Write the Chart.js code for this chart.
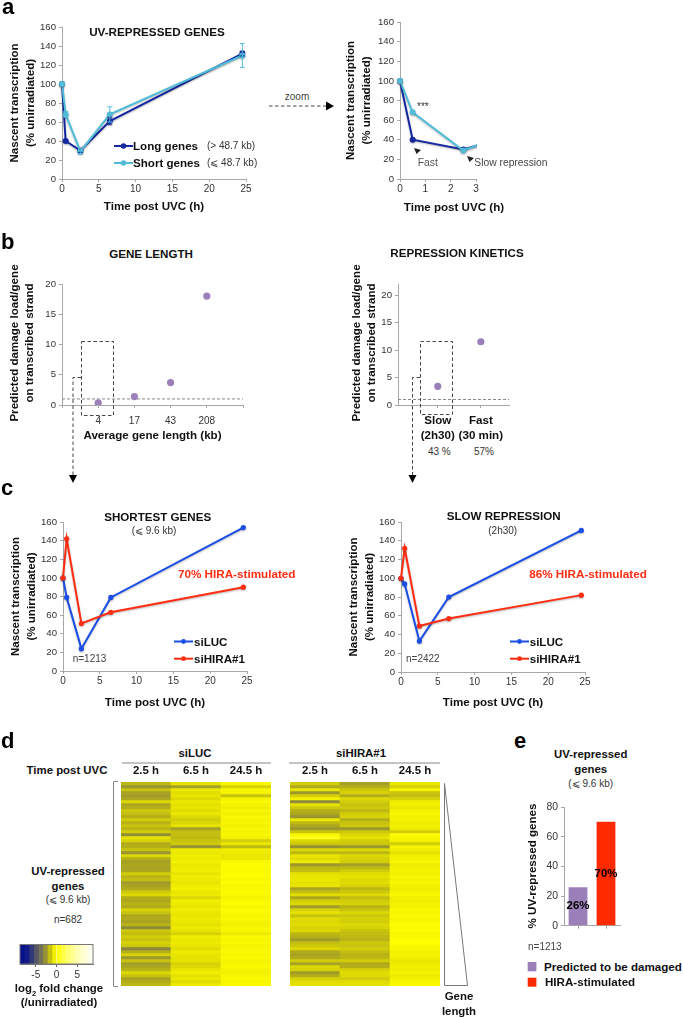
<!DOCTYPE html>
<html><head><meta charset="utf-8">
<script src="https://cdn.jsdelivr.net/npm/chart.js@4"></script>
<style>
html,body{margin:0;padding:0;background:#fff;width:683px;height:1018px;overflow:hidden;font-family:"Liberation Sans",Arial,sans-serif}
body{filter:blur(.35px)}
canvas{position:absolute}
.t{position:absolute;white-space:nowrap;line-height:1;color:#111}
.b{font-weight:bold}
sub{font-size:.65em;line-height:0}
svg{position:absolute;left:0;top:0;pointer-events:none}
</style></head><body>
<script>
// ---------- data ----------
const timePoints = [0, 0.5, 2.5, 6.5, 24.5];
const longGenes = [100, 40, 30, 61, 132];
const shortGenes = [100, 68, 29, 68, 130];
const longErr = [0, 1, 2, 4, 2.5];
const shortErr = [0, 3, 3, 8, 12.5];
const lengthLabels = ['', '4', '17', '43', '208', ''];
const lengthDamage = [null, 0.35, 1.4, 3.7, 18, null];
const refLevel = [1, 1, 1, 1, 1, 1];
const kineticsPos = [1, 2];
const kineticsDamage = [3.4, 11.5];
const kineticsLabels = [['Slow', '(2h30)'], ['Fast', '(30 min)']];
const shortestLUC = [100, 79, 24, 79, 154];
const shortestHIRA = [100, 142, 51, 63, 90];
const slowLUC = [100, 94, 33, 80, 151];
const slowHIRA = [100, 132, 49, 57, 82];
const barCats = ['Predicted to be damaged', 'HIRA-stimulated'];
const barVals = [26, 70];
const heatCols = ['2.5 h', '6.5 h', '24.5 h'];
// heat-map rows (log2 fold change, read by eye in bands, top to bottom)
const luc25 = [-1.8,-2.7,-1.6,-2.3,-2.5,-2.2,-1.2,-2.2,-2,-1.5,-1.7,-2,-1.4,-1.9,-1.6,-1.9,-1.4,-2.9,-1,-1.3,-2.1,-2,-1.6,-2.7,-1.2,-2,-2.4,-2.2,-2.3,-2.2,-1.4,-1.9,-1.7,-2.5,-2.3,-2.1,-1.5,-1.2,-2,-2.2,-1.9,-2.1,-1.3,-1.6,-2.2,-2.1,-2.3,-1.9,-3,-1.5,-1.7,-1.4,-1.6,-1.3,-1.5,-3.1,-2,-1.3,-2.6,-1.6,-2.4,-2.2,-1.9,-1.2,-1.6,-2.3,-2,-1.8];
const luc65 = [-1,-2.4,-.8,-1.1,-.9,-1.2,-.8,-1,-.9,-1.1,-.8,-1.2,-1.4,-1.2,-1,-2.4,-1.7,-1.7,-1.8,-1.6,-1.5,-2.8,-.7,-.8,-.6,-.7,-.5,-.8,-.7,-.6,-.9,-.6,-.7,-.9,-.6,-.5,-.8,-.7,-1.2,-.6,-.7,-.9,-.6,-.8,-.9,-.7,-.8,-1,-.7,-1,-1.3,-.6,-.8,-.7,-.9,-1.1,-.7,-.9,-1,-1,-1.3,-1.2,-.9,-.6,-1,-.8,-1.1,-.7];
const luc245 = [-.3,-1.3,-.3,-.4,-1.6,-.4,-.2,-.4,-.6,-.3,-.5,-.2,-.4,-.3,-.5,-.3,-.4,-.3,-.5,-1.4,-.8,-1.8,-.6,-.7,-.9,-.8,-.2,-.1,-.1,-.2,-.1,-.1,-.2,-.1,-.3,-.2,-.1,-.2,-.4,-.2,-.1,-.3,-.1,-.2,-.3,-.2,-.4,-.5,-.3,-.3,-.7,-.2,-.3,-.2,-.4,-.3,-.2,-.3,-.2,-.4,-.3,-.2,-.4,-.5,-.3,-.2,-.3,-.2];
const hira25 = [-1.4,-2.1,-.9,-2.6,-1.3,-.5,-3,-1,-1.5,-2,-2.2,-2.7,-.8,-1.8,-2.2,-2.6,-1.6,-.3,.6,-1.2,-1.5,-2.8,-1.2,-1.8,-.9,-1.1,-.7,-2.6,-1.8,-1.7,-1,-.9,-.8,-1,-.9,-2.3,-1.7,-1.1,-2.2,-1.4,-1.2,-2.5,-1.3,-1,-1.6,-1.1,-1.2,-1.1,-1.3,-1.2,-1.8,-2,-2.5,-1.7,-1.5,-1.2,-2.1,-2.3,-2.1,-1.4,-2.3,-1.2,-1.3,-2.5,-2,-1.3,-1.1,-1];
const hira65 = [-2.4,-2,-1.5,-1.3,-2,-1.2,-1.4,-1.6,-1.5,-1.8,-1.4,-1.3,-2,-1.6,-1.5,-2.6,-1.5,-1.2,-1,-1.4,-1.5,-2.6,-1.2,-1.8,-1.2,-1.3,-1.4,-2.4,-1.8,-1.4,-1.1,-1,-1.2,-1.1,-1.3,-1.8,-1.5,-1.2,-1.7,-1.4,-1.3,-1.9,-1.6,-1.2,-1.5,-1.3,-1.4,-1.2,-1.3,-1.6,-1.7,-1.8,-1.9,-1.5,-1.6,-1.4,-1.7,-1.9,-1.8,-1.4,-2.1,-2,-1.3,-1.1,-1.2,-1.4,-1.1,-1];
const hira245 = [-.8,-1.3,-.3,-1.6,-1.7,-1.3,-.6,-.5,-.8,-.4,-.3,-.5,-.4,-.6,-.5,-.7,-1.4,-.1,-.3,-.5,-1.4,-.4,-.6,-1,-.5,-.4,-.3,-.6,-.5,-.4,-.5,-.3,-.4,-.3,-.5,-.6,-.4,-.3,-.5,-.6,-.4,-.5,-.2,-.3,-.2,-.3,-.2,-.1,-.2,-.1,-.3,-.2,-.1,0,-.2,-.3,-.5,-.4,-.6,-.8,-.7,-.5,-.6,-.4,-.7,-.5,-.3,-.2];
const colorbarEdges = [-8.8,-7.7,-6.6,-5.5,-4.4,-3.3,-2.2,-1.1,0,1.1,2.2,3.3,4.4,5.5,6.6,7.7,8.8];
const colorbarTicks = [-5,0,5];

// ---------- helpers ----------
const FONT='"Liberation Sans",Arial,sans-serif';
const GREY='#a8a8a8', TICKC='#333';
const heatStops=[[-8.8,[0,10,140]],[-7,[20,28,136]],[-6,[51,58,120]],[-5,[85,85,104]],[-4,[110,110,92]],[-3,[142,138,60]],[-2,[180,174,24]],[-1,[230,226,0]],[0,[255,255,0]],[2,[255,255,90]],[5,[255,255,180]],[8.8,[255,255,255]]];
function heatColor(v){
  for(let i=0;i<heatStops.length-1;i++){
    const [a,ca]=heatStops[i],[b,cb]=heatStops[i+1];
    if(v<=b){const f=Math.max(0,(v-a)/(b-a));return 'rgb('+ca.map((c,k)=>Math.round(c+(cb[k]-c)*f)).join(',')+')';}
  }
  return '#fff';
}
function txt(s,x,y,o={}){
  const d=document.createElement('div');d.className='t'+(o.b?' b':'');d.innerHTML=s;
  d.style.left=x+'px';d.style.top=y+'px';d.style.fontSize=(o.s||10)+'px';
  if(o.c)d.style.color=o.c;
  d.style.transform=o.v?'translate(-50%,-50%) rotate(-90deg)':(o.left?'translateY(-50%)':'translate(-50%,-50%)');
  document.body.appendChild(d);
}
const shadow={id:'softShadow',
  beforeDatasetsDraw(ch){ch.ctx.save();ch.ctx.shadowColor='rgba(0,0,0,.28)';ch.ctx.shadowBlur=2;ch.ctx.shadowOffsetY=1;},
  afterDatasetsDraw(ch){ch.ctx.restore();}};
function mk(box,plot,cfg,plugins){
  const [L,T,R,B]=box,[l,t,r,b]=plot;
  const c=document.createElement('canvas');c.width=R-L;c.height=B-T;c.style.left=L+'px';c.style.top=T+'px';
  document.body.appendChild(c);
  const s=cfg.options.scales;
  const top=s.x.position==='top';
  s.x.afterFit=a=>{a.height=top?(t-T):(B-b);};
  if(s.y.display!==false)s.y.afterFit=a=>{a.width=l-L;};
  cfg.options=Object.assign({responsive:false,animation:false,events:[],maintainAspectRatio:false,
    layout:{padding:{left:s.y.display===false?l-L:0,top:top?0:t-T,right:R-r,bottom:top?B-b:0}},
    plugins:{legend:{display:false},tooltip:{enabled:false},title:{display:false}}},cfg.options);
  cfg.plugins=plugins||[];
  return new Chart(c,cfg);
}
const AXT=t=>({display:!!t,text:t||'',color:'#111',padding:0,font:{family:FONT,size:11.6,weight:'bold',lineHeight:1.35}});
function yAxis(max,step,title,fs,pad){return {type:'linear',min:0,max,
  ticks:{stepSize:step,includeBounds:false,color:TICKC,padding:pad||3,font:{family:FONT,size:fs||9.6}},
  grid:{drawOnChartArea:false,tickLength:3,tickColor:GREY},border:{color:GREY},title:AXT(title)};}
function xTime(max,step,title){return {type:'linear',min:0,max,
  ticks:{stepSize:step,color:TICKC,padding:1,maxRotation:0,font:{family:FONT,size:10}},
  grid:{drawOnChartArea:false,tickLength:3,tickColor:GREY},border:{color:GREY},title:AXT(title)};}
const pts=(xs,ys)=>xs.map((x,i)=>({x,y:ys[i]}));
function lineDs(label,ys,color,order,radius){return {label,data:pts(timePoints,ys),showLine:true,borderColor:color,backgroundColor:color,borderWidth:2,pointRadius:radius||3,pointBorderWidth:0,tension:0,order,clip:{left:6,top:6,right:1,bottom:6}};}
const errBars={id:'errBars',afterDatasetsDraw(ch){
  const ctx=ch.ctx,xS=ch.scales.x,yS=ch.scales.y;
  [[longGenes,longErr,'#1528a0'],[shortGenes,shortErr,'#52bcd8']].forEach(([v,e,col])=>{
    ctx.save();ctx.strokeStyle=col;ctx.lineWidth=1;
    v.forEach((val,i)=>{if(!e[i])return;const x=xS.getPixelForValue(timePoints[i]),a=yS.getPixelForValue(val-e[i]),b=yS.getPixelForValue(val+e[i]);
      ctx.beginPath();ctx.moveTo(x,a);ctx.lineTo(x,b);ctx.moveTo(x-2.5,a);ctx.lineTo(x+2.5,a);ctx.moveTo(x-2.5,b);ctx.lineTo(x+2.5,b);ctx.stroke();});
    ctx.restore();});
}};
const NASCENT=['Nascent transcription','(% unirradiated)'];
const LONGC='#1528a0',SHORTC='#52bcd8',LUCC='#1a4ee6',HIRAC='#ff2d12',PURPLE='#9a7fb8';
const TIMEAX='Time post UVC (h)';

// ---------- panel a ----------
mk([7,10,262,215],[62,27,246,179],{type:'scatter',data:{datasets:[lineDs('Long genes',longGenes,LONGC,2),lineDs('Short genes',shortGenes,SHORTC,1)]},
  options:{scales:{x:xTime(25,5,TIMEAX),y:yAxis(160,20,NASCENT)}}},[shadow,errBars]);
mk([343,10,490,215],[400,22,476,179],{type:'scatter',data:{datasets:[lineDs('Long genes',longGenes,LONGC,2),lineDs('Short genes',shortGenes,SHORTC,1)]},
  options:{scales:{x:xTime(3,1),y:yAxis(160,20,NASCENT)}}},[shadow]);

// ---------- panel b ----------
function dotDs(label,data){return {label,data,showLine:false,pointRadius:3.6,pointBorderWidth:0,backgroundColor:PURPLE,borderColor:PURPLE,order:1};}
mk([6,270,255,444],[62,284,243,405],{type:'line',data:{labels:lengthLabels,datasets:[dotDs('Damage',lengthDamage),
   {label:'Level 1',data:refLevel,borderColor:'#888',borderWidth:1,borderDash:[3,2],pointRadius:0,order:2}]},
  options:{scales:{x:{type:'category',offset:false,ticks:{color:TICKC,padding:7,autoSkip:false,maxRotation:0,font:{family:FONT,size:10}},
     grid:{drawOnChartArea:false,tickLength:3,tickColor:GREY},border:{color:GREY},title:AXT('Average gene length (kb)')},
    y:yAxis(20,5)}}});
const xMinK=0.076,xMaxK=2.654;
mk([348,270,520,445],[398,284,509,405],{type:'scatter',data:{datasets:[dotDs('Damage',pts(kineticsPos,kineticsDamage)),
   {label:'Level 1',data:[{x:xMinK,y:1},{x:xMaxK,y:1}],showLine:true,borderColor:'#888',borderWidth:1,borderDash:[3,2],pointRadius:0,order:2}]},
  options:{scales:{x:{type:'linear',min:xMinK,max:xMaxK,afterBuildTicks:a=>{a.ticks=kineticsPos.map(v=>({value:v}));},
      ticks:{color:'#111',padding:5,maxRotation:0,callback:v=>kineticsLabels[kineticsPos.indexOf(v)],font:{family:FONT,size:11.6,weight:'bold',lineHeight:1.3}},
      grid:{drawOnChartArea:false,tickLength:3,tickColor:GREY},border:{color:GREY}},
    y:yAxis(22,5)}}});

// ---------- panel c ----------
mk([8,505,262,711],[63,522,247,671],{type:'scatter',data:{datasets:[lineDs('siLUC',shortestLUC,LUCC,2,2.6),lineDs('siHIRA#1',shortestHIRA,HIRAC,1,2.6)]},
  options:{scales:{x:xTime(25,5,TIMEAX),y:yAxis(160,20,NASCENT)}}},[shadow]);
mk([346,505,600,711],[401,522,585,672],{type:'scatter',data:{datasets:[lineDs('siLUC',slowLUC,LUCC,2,2.6),lineDs('siHIRA#1',slowHIRA,HIRAC,1,2.6)]},
  options:{scales:{x:xTime(25,5,TIMEAX),y:yAxis(160,20,NASCENT)}}},[shadow]);

// ---------- panel d ----------
function heat(box,plot,cols){
  const datasets=cols[0].map((_,i)=>({label:'row '+i,data:cols.map(()=>1),backgroundColor:cols.map(c=>heatColor(c[i])),borderWidth:0,barPercentage:1,categoryPercentage:1}));
  mk(box,plot,{type:'bar',data:{labels:heatCols,datasets},options:{scales:{
    x:{position:'top',stacked:true,ticks:{color:'#111',padding:4,maxRotation:0,font:{family:FONT,size:11.4,weight:'bold'}},grid:{display:false,drawTicks:false},border:{display:false}},
    y:{display:false,stacked:true,reverse:true,min:0,max:cols[0].length}}}});
}
heat([121,764,271,986],[121,782,271,986],[luc25,luc65,luc245]);
heat([290,764,440,986],[290,782,440,986],[hira25,hira65,hira245]);
mk([12,944,101,985],[20,944,93,964],{type:'bar',data:{labels:['log2 fold change'],
   datasets:colorbarEdges.slice(0,-1).map((a,i)=>({label:'step '+i,data:[[a,colorbarEdges[i+1]]],backgroundColor:heatColor((a+colorbarEdges[i+1])/2),borderWidth:0,grouped:false,barPercentage:1,categoryPercentage:1}))},
  options:{indexAxis:'y',scales:{x:{type:'linear',min:colorbarEdges[0],max:colorbarEdges[colorbarEdges.length-1],afterBuildTicks:a=>{a.ticks=colorbarTicks.map(v=>({value:v}));},
     ticks:{color:TICKC,padding:2,maxRotation:0,callback:v=>String(v),font:{family:FONT,size:10}},
     grid:{drawOnChartArea:false,tickLength:3,tickColor:'#666'},border:{color:'#777'}},
    y:{display:false,type:'category'}}}});

// ---------- panel e ----------
const barLabels={id:'barLabels',afterDatasetsDraw(ch){
  const ctx=ch.ctx;ctx.save();ctx.font='bold 11.4px '+FONT;ctx.fillStyle='#000';ctx.textAlign='center';ctx.textBaseline='middle';
  ch.getDatasetMeta(0).data.forEach((bar,i)=>{ctx.fillText(barVals[i]+'%',bar.x,(bar.y+bar.base)/2);});ctx.restore();}};
mk([525,795,630,935],[564,807,620,927],{type:'bar',data:{labels:barCats,datasets:[{label:'% UV-repressed genes',data:barVals,backgroundColor:[PURPLE,'#ff2a00'],borderWidth:0,barPercentage:.67,categoryPercentage:1}]},
  options:{scales:{x:{ticks:{display:false},grid:{offset:false,drawOnChartArea:false,tickLength:3,tickColor:GREY},border:{color:GREY}},
    y:yAxis(80,20,null,10.4,3)}}},[barLabels]);

// ---------- text ----------
txt('a',2,7,{s:22,b:1,c:'#000',left:1});txt('b',1,242,{s:22,b:1,c:'#000',left:1});txt('c',1,488,{s:22,b:1,c:'#000',left:1});txt('d',1,741,{s:22,b:1,c:'#000',left:1});txt('e',514,741,{s:22,b:1,c:'#000',left:1});
txt('UV-REPRESSED GENES',157,32,{s:11.7,b:1});
txt('zoom',297,97,{s:10,c:'#444'});
txt('Long genes',133,146,{s:11.6,b:1,left:1});txt('(&gt; 48.7 kb)',207,146,{s:10,c:'#333',left:1});
txt('Short genes',133,163,{s:11.6,b:1,left:1});txt('(⩽ 48.7 kb)',207,163,{s:10,c:'#333',left:1});
txt('***',417,107,{s:10,c:'#333',left:1});
txt('Time post UVC (h)',454,207,{s:11.6,b:1});
txt('Fast',417.7,163,{s:10.4,c:'#555',left:1});txt('Slow repression',474.3,163,{s:10.3,c:'#444',left:1});
txt('GENE LENGTH',151,254,{s:11.6,b:1});txt('REPRESSION KINETICS',457,253,{s:11.6,b:1});
txt('Predicted damage load/gene',14,343,{s:11.6,b:1,v:1});txt('on transcribed strand',29.3,343,{s:11.6,b:1,v:1});
txt('Predicted damage load/gene',355.7,343,{s:11.6,b:1,v:1});txt('on transcribed strand',370.7,343,{s:11.6,b:1,v:1});
txt('% UV-repressed genes',532.3,866,{s:11.6,b:1,v:1});
txt('43 %',439.3,451.7,{s:10,c:'#333'});txt('57%',484,451.7,{s:10,c:'#333'});
txt('SHORTEST GENES',157.7,516.7,{s:11.6,b:1});txt('(⩽ 9.6 kb)',154,531,{s:10,c:'#333'});
txt('SLOW REPRESSION',503.7,515.7,{s:11.6,b:1});txt('(2h30)',502.7,531,{s:10,c:'#333'});
txt('70% HIRA-stimulated',236.7,574,{s:11.7,b:1,c:'#ff2d12'});txt('86% HIRA-stimulated',588,574,{s:11.7,b:1,c:'#ff2d12'});
txt('siLUC',194,641.5,{s:11.6,b:1,left:1});txt('siHIRA#1',194,659,{s:11.6,b:1,left:1});
txt('siLUC',529.7,641.5,{s:11.6,b:1,left:1});txt('siHIRA#1',529.7,659,{s:11.6,b:1,left:1});
txt('n=1213',72.7,659,{s:10,c:'#444',left:1});txt('n=2422',406,659,{s:10,c:'#444',left:1});
txt('siLUC',195,754,{s:11.4,b:1});txt('siHIRA#1',361,754,{s:11.4,b:1});
txt('Time post UVC',67,771,{s:11.4,b:1});
txt('UV-repressed',68,872,{s:11.4,b:1});txt('genes',68,887,{s:11.4,b:1});txt('(⩽ 9.6 kb)',68,900,{s:10,c:'#333'});txt('n=682',68,920,{s:10,c:'#333'});
txt('log<sub>2</sub> fold change',59,989,{s:11.4,b:1});txt('(/unirradiated)',59,1003,{s:11.4,b:1});
txt('Gene',459,997,{s:11.4,b:1});txt('length',459,1011.5,{s:11.4,b:1});
txt('UV-repressed',590.7,755,{s:11.4,b:1});txt('genes',590.7,770,{s:11.4,b:1});txt('(⩽ 9.6 kb)',590.7,784,{s:10,c:'#333'});
txt('n=1213',528,947,{s:10,c:'#444',left:1});
txt('Predicted to be damaged',544,966.7,{s:11.6,b:1,left:1});txt('HIRA-stimulated',545,982.3,{s:11.6,b:1,left:1});

// ---------- annotations ----------
const sampleLine=(x1,x2,y,c,r)=>`<line x1="${x1}" x2="${x2}" y1="${y}" y2="${y}" stroke="${c}" stroke-width="2"/><circle cx="${(x1+x2)/2}" cy="${y}" r="${r}" fill="${c}"/>`;
const dash='stroke="#444" stroke-width="1" stroke-dasharray="3.5 2.5" fill="none"';
const svgNS=`
<line x1="269" x2="326" y1="106" y2="106" ${dash}/><polygon points="326,101.5 334,106 326,110.5" fill="#000"/>
${sampleLine(114,133,146,LONGC,2.8)}${sampleLine(114,133,163,SHORTC,2.8)}
<polygon points="414,148 421,150 416.5,154" fill="#222"/><polygon points="467,156 474,158 469.5,162" fill="#222"/>
<rect x="81.5" y="341.5" width="32" height="74" ${dash}/><path d="M81 377.5H73V476" ${dash}/><polygon points="69,475 77,475 73,483" fill="#000"/>
<rect x="420.5" y="341.5" width="32" height="73" ${dash}/><path d="M420 377.5H412.5V476" ${dash}/><polygon points="408.5,475 416.5,475 412.5,483" fill="#000"/>
${sampleLine(174,193,641.5,LUCC,2.4)}${sampleLine(174,193,658.7,HIRAC,2.4)}
${sampleLine(510,529,641.5,LUCC,2.4)}${sampleLine(510,529,658.7,HIRAC,2.4)}
<line x1="122" x2="271" y1="763" y2="763" stroke="#888"/><line x1="289" x2="440" y1="763" y2="763" stroke="#888"/>
<path d="M118 781.5H113.5V986.5H118" stroke="#888" fill="none"/>
<polygon points="444.5,783.5 444.5,985.5 467.5,985.5" stroke="#777" fill="none"/>
<rect x="20" y="944.5" width="73" height="19.5" stroke="#777" fill="none"/>
<rect x="527.7" y="962" width="8.7" height="9.3" fill="${PURPLE}"/><rect x="527.7" y="977.7" width="8.7" height="9" fill="#ff2a00"/>`;
const holder=document.createElement('div');holder.innerHTML='<svg width="683" height="1018" xmlns="http://www.w3.org/2000/svg">'+svgNS+'</svg>';
document.body.appendChild(holder.firstChild);
</script>
</body></html>
